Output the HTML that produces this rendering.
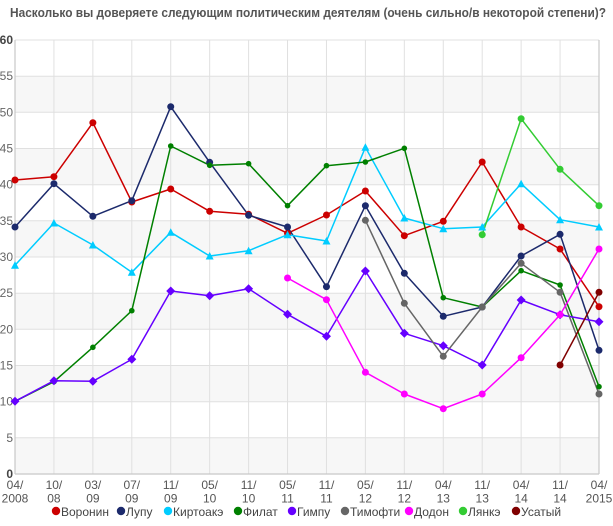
<!DOCTYPE html>
<html><head><meta charset="utf-8"><style>
html,body{margin:0;padding:0;background:#fff;}
svg{display:block;font-family:"Liberation Sans","DejaVu Sans",sans-serif;}
</style></head><body>
<svg width="613" height="526" viewBox="0 0 613 526" xmlns="http://www.w3.org/2000/svg">
<rect x="0" y="0" width="613" height="526" fill="#fff"/>
<text x="10" y="17" font-size="12.5" font-weight="bold" fill="#555" textLength="596" lengthAdjust="spacingAndGlyphs">Насколько вы доверяете следующим политическим деятелям (очень сильно/в некоторой степени)?</text>
<!-- bands -->
<g fill="#f7f7f7">
<rect x="15" y="76.2" width="584" height="36.2"/>
<rect x="15" y="148.5" width="584" height="36.2"/>
<rect x="15" y="220.8" width="584" height="36.2"/>
<rect x="15" y="293" width="584" height="36.2"/>
<rect x="15" y="365.5" width="584" height="36.2"/>
<rect x="15" y="437.8" width="584" height="36.2"/>
</g>
<!-- grid -->
<g stroke="#e0e0e0" stroke-width="1">
<line x1="15" x2="599" y1="40" y2="40"/>
<line x1="15" x2="599" y1="76.2" y2="76.2"/>
<line x1="15" x2="599" y1="112.3" y2="112.3"/>
<line x1="15" x2="599" y1="148.5" y2="148.5"/>
<line x1="15" x2="599" y1="184.7" y2="184.7"/>
<line x1="15" x2="599" y1="220.8" y2="220.8"/>
<line x1="15" x2="599" y1="257" y2="257"/>
<line x1="15" x2="599" y1="293.2" y2="293.2"/>
<line x1="15" x2="599" y1="329.3" y2="329.3"/>
<line x1="15" x2="599" y1="365.5" y2="365.5"/>
<line x1="15" x2="599" y1="401.7" y2="401.7"/>
<line x1="15" x2="599" y1="437.8" y2="437.8"/>
<line x1="53.93" x2="53.93" y1="40" y2="474"/>
<line x1="92.87" x2="92.87" y1="40" y2="474"/>
<line x1="131.8" x2="131.8" y1="40" y2="474"/>
<line x1="170.73" x2="170.73" y1="40" y2="474"/>
<line x1="209.67" x2="209.67" y1="40" y2="474"/>
<line x1="248.6" x2="248.6" y1="40" y2="474"/>
<line x1="287.53" x2="287.53" y1="40" y2="474"/>
<line x1="326.47" x2="326.47" y1="40" y2="474"/>
<line x1="365.4" x2="365.4" y1="40" y2="474"/>
<line x1="404.33" x2="404.33" y1="40" y2="474"/>
<line x1="443.27" x2="443.27" y1="40" y2="474"/>
<line x1="482.2" x2="482.2" y1="40" y2="474"/>
<line x1="521.13" x2="521.13" y1="40" y2="474"/>
<line x1="560.07" x2="560.07" y1="40" y2="474"/>
</g>
<g stroke="#c8c8c8" stroke-width="1.2">
<line x1="15" x2="15" y1="40" y2="474"/>
<line x1="599" x2="599" y1="40" y2="474"/>
<line x1="15" x2="599" y1="474" y2="474"/>
</g>
<!-- y labels -->
<g font-size="12" fill="#666" text-anchor="end">
<text x="13" y="44" font-weight="bold" fill="#444">60</text>
<text x="13" y="80.2">55</text>
<text x="13" y="116.3">50</text>
<text x="13" y="152.5">45</text>
<text x="13" y="188.7">40</text>
<text x="13" y="224.8">35</text>
<text x="13" y="261">30</text>
<text x="13" y="297.2">25</text>
<text x="13" y="333.3">20</text>
<text x="13" y="369.5">15</text>
<text x="13" y="405.7">10</text>
<text x="13" y="441.8">5</text>
<text x="13" y="478" font-weight="bold" fill="#444">0</text>
</g>
<!-- x labels -->
<g font-size="12" fill="#555" text-anchor="middle">
<text x="15" y="489">04/</text><text x="15" y="502.5">2008</text>
<text x="53.93" y="489">10/</text><text x="53.93" y="502.5">08</text>
<text x="92.87" y="489">03/</text><text x="92.87" y="502.5">09</text>
<text x="131.8" y="489">07/</text><text x="131.8" y="502.5">09</text>
<text x="170.73" y="489">11/</text><text x="170.73" y="502.5">09</text>
<text x="209.67" y="489">05/</text><text x="209.67" y="502.5">10</text>
<text x="248.6" y="489">11/</text><text x="248.6" y="502.5">10</text>
<text x="287.53" y="489">05/</text><text x="287.53" y="502.5">11</text>
<text x="326.47" y="489">11/</text><text x="326.47" y="502.5">11</text>
<text x="365.4" y="489">05/</text><text x="365.4" y="502.5">12</text>
<text x="404.33" y="489">11/</text><text x="404.33" y="502.5">12</text>
<text x="443.27" y="489">04/</text><text x="443.27" y="502.5">13</text>
<text x="482.2" y="489">11/</text><text x="482.2" y="502.5">13</text>
<text x="521.13" y="489">04/</text><text x="521.13" y="502.5">14</text>
<text x="560.07" y="489">11/</text><text x="560.07" y="502.5">14</text>
<text x="599" y="489">04/</text><text x="599" y="502.5">2015</text>
</g>
<!-- series lines -->
<g fill="none" stroke-width="1.5" stroke-linejoin="round">
<polyline stroke="#cc0000" points="15,180 53.93,176.7 92.87,122.7 131.8,202 170.73,189 209.67,211.3 248.6,214.3 287.53,233.3 326.47,215 365.4,191 404.33,235.7 443.27,221.3 482.2,162 521.13,227 560.07,249 599,306.7"/>
<polyline stroke="#1c2a6c" points="15,227 53.93,183.7 92.87,216.3 131.8,200.7 170.73,106.7 209.67,162.3 248.6,215.3 287.53,227 326.47,286.7 365.4,205.7 404.33,273.3 443.27,316.3 482.2,307 521.13,256 560.07,234.3 599,350.3"/>
<polyline stroke="#00ccff" points="15,265.3 53.93,223 92.87,245 131.8,272.3 170.73,232.3 209.67,256 248.6,250.7 287.53,234.7 326.47,241 365.4,147.3 404.33,218 443.27,228.7 482.2,227 521.13,183.7 560.07,219.7 599,227"/>
<polyline stroke="#008000" points="15,401.3 53.93,381.7 92.87,347.3 131.8,310.7 170.73,146 209.67,165.3 248.6,163.7 287.53,205.7 326.47,165.7 365.4,162 404.33,148.3 443.27,297.7 482.2,307 521.13,270.7 560.07,285 599,386.7"/>
<polyline stroke="#6600ff" points="15,401.3 53.93,380.7 92.87,381.3 131.8,359.3 170.73,291 209.67,295.7 248.6,288.7 287.53,314.3 326.47,336.3 365.4,271 404.33,333.3 443.27,345.7 482.2,365 521.13,300 560.07,314.7 599,321.7"/>
<polyline stroke="#666666" points="365.4,220.3 404.33,303.3 443.27,356.3 482.2,307 521.13,263.3 560.07,292.3 599,394"/>
<polyline stroke="#ff00ff" points="287.53,278 326.47,299.7 365.4,372.3 404.33,394 443.27,408.7 482.2,394 521.13,357.7 560.07,314.7 599,249"/>
<polyline stroke="#33cc33" points="482.2,234.7 521.13,118.7 560.07,169.3 599,205.7"/>
<polyline stroke="#800000" points="560.07,365 599,292.3"/>
</g>
<!-- markers -->
<g fill="#cc0000">
<circle cx="15" cy="180" r="3.5"/><circle cx="53.93" cy="176.7" r="3.5"/><circle cx="92.87" cy="122.7" r="3.5"/><circle cx="131.8" cy="202" r="3.5"/><circle cx="170.73" cy="189" r="3.5"/><circle cx="209.67" cy="211.3" r="3.5"/><circle cx="248.6" cy="214.3" r="3.5"/><circle cx="287.53" cy="233.3" r="3.5"/><circle cx="326.47" cy="215" r="3.5"/><circle cx="365.4" cy="191" r="3.5"/><circle cx="404.33" cy="235.7" r="3.5"/><circle cx="443.27" cy="221.3" r="3.5"/><circle cx="482.2" cy="162" r="3.5"/><circle cx="521.13" cy="227" r="3.5"/><circle cx="560.07" cy="249" r="3.5"/><circle cx="599" cy="306.7" r="3.5"/>
</g>
<g fill="#1c2a6c">
<circle cx="15" cy="227" r="3.5"/><circle cx="53.93" cy="183.7" r="3.5"/><circle cx="92.87" cy="216.3" r="3.5"/><circle cx="131.8" cy="200.7" r="3.5"/><circle cx="170.73" cy="106.7" r="3.5"/><circle cx="209.67" cy="162.3" r="3.5"/><circle cx="248.6" cy="215.3" r="3.5"/><circle cx="287.53" cy="227" r="3.5"/><circle cx="326.47" cy="286.7" r="3.5"/><circle cx="365.4" cy="205.7" r="3.5"/><circle cx="404.33" cy="273.3" r="3.5"/><circle cx="443.27" cy="316.3" r="3.5"/><circle cx="482.2" cy="307" r="3.5"/><circle cx="521.13" cy="256" r="3.5"/><circle cx="560.07" cy="234.3" r="3.5"/><circle cx="599" cy="350.3" r="3.5"/>
</g>
<g fill="#00ccff">
<path d="M11,268.8h8l-4,-7.5z M49.93,226.5h8l-4,-7.5z M88.87,248.5h8l-4,-7.5z M127.8,275.8h8l-4,-7.5z M166.73,235.8h8l-4,-7.5z M205.67,259.5h8l-4,-7.5z M244.6,254.2h8l-4,-7.5z M283.53,238.2h8l-4,-7.5z M322.47,244.5h8l-4,-7.5z M361.4,150.8h8l-4,-7.5z M400.33,221.5h8l-4,-7.5z M439.27,232.2h8l-4,-7.5z M478.2,230.5h8l-4,-7.5z M517.13,187.2h8l-4,-7.5z M556.07,223.2h8l-4,-7.5z M595,230.5h8l-4,-7.5z"/>
</g>
<g fill="#008000">
<circle cx="15" cy="401.3" r="2.8"/><circle cx="53.93" cy="381.7" r="2.8"/><circle cx="92.87" cy="347.3" r="2.8"/><circle cx="131.8" cy="310.7" r="2.8"/><circle cx="170.73" cy="146" r="2.8"/><circle cx="209.67" cy="165.3" r="2.8"/><circle cx="248.6" cy="163.7" r="2.8"/><circle cx="287.53" cy="205.7" r="2.8"/><circle cx="326.47" cy="165.7" r="2.8"/><circle cx="365.4" cy="162" r="2.8"/><circle cx="404.33" cy="148.3" r="2.8"/><circle cx="443.27" cy="297.7" r="2.8"/><circle cx="482.2" cy="307" r="2.8"/><circle cx="521.13" cy="270.7" r="2.8"/><circle cx="560.07" cy="285" r="2.8"/><circle cx="599" cy="386.7" r="2.8"/>
</g>
<g fill="#6600ff">
<path d="M15,396.8l4.5,4.5l-4.5,4.5l-4.5,-4.5z M53.93,376.2l4.5,4.5l-4.5,4.5l-4.5,-4.5z M92.87,376.8l4.5,4.5l-4.5,4.5l-4.5,-4.5z M131.8,354.8l4.5,4.5l-4.5,4.5l-4.5,-4.5z M170.73,286.5l4.5,4.5l-4.5,4.5l-4.5,-4.5z M209.67,291.2l4.5,4.5l-4.5,4.5l-4.5,-4.5z M248.6,284.2l4.5,4.5l-4.5,4.5l-4.5,-4.5z M287.53,309.8l4.5,4.5l-4.5,4.5l-4.5,-4.5z M326.47,331.8l4.5,4.5l-4.5,4.5l-4.5,-4.5z M365.4,266.5l4.5,4.5l-4.5,4.5l-4.5,-4.5z M404.33,328.8l4.5,4.5l-4.5,4.5l-4.5,-4.5z M443.27,341.2l4.5,4.5l-4.5,4.5l-4.5,-4.5z M482.2,360.5l4.5,4.5l-4.5,4.5l-4.5,-4.5z M521.13,295.5l4.5,4.5l-4.5,4.5l-4.5,-4.5z M560.07,310.2l4.5,4.5l-4.5,4.5l-4.5,-4.5z M599,317.2l4.5,4.5l-4.5,4.5l-4.5,-4.5z"/>
</g>
<g fill="#666666">
<circle cx="365.4" cy="220.3" r="3.5"/><circle cx="404.33" cy="303.3" r="3.5"/><circle cx="443.27" cy="356.3" r="3.5"/><circle cx="482.2" cy="307" r="3.5"/><circle cx="521.13" cy="263.3" r="3.5"/><circle cx="560.07" cy="292.3" r="3.5"/><circle cx="599" cy="394" r="3.5"/>
</g>
<g fill="#ff00ff">
<circle cx="287.53" cy="278" r="3.5"/><circle cx="326.47" cy="299.7" r="3.5"/><circle cx="365.4" cy="372.3" r="3.5"/><circle cx="404.33" cy="394" r="3.5"/><circle cx="443.27" cy="408.7" r="3.5"/><circle cx="482.2" cy="394" r="3.5"/><circle cx="521.13" cy="357.7" r="3.5"/><circle cx="560.07" cy="314.7" r="3.5"/><circle cx="599" cy="249" r="3.5"/>
</g>
<g fill="#33cc33">
<circle cx="482.2" cy="234.7" r="3.5"/><circle cx="521.13" cy="118.7" r="3.5"/><circle cx="560.07" cy="169.3" r="3.5"/><circle cx="599" cy="205.7" r="3.5"/>
</g>
<g fill="#800000">
<circle cx="560.07" cy="365" r="3.5"/><circle cx="599" cy="292.3" r="3.5"/>
</g>
<!-- legend -->
<g font-size="12" fill="#444">
<circle cx="56" cy="511" r="4.2" fill="#cc0000"/><text x="61" y="516">Воронин</text>
<circle cx="121" cy="511" r="4.2" fill="#1c2a6c"/><text x="126" y="516">Лупу</text>
<circle cx="168" cy="511" r="4.2" fill="#00ccff"/><text x="173" y="516">Киртоакэ</text>
<circle cx="238" cy="511" r="4.2" fill="#008000"/><text x="243" y="516">Филат</text>
<circle cx="292" cy="511" r="4.2" fill="#6600ff"/><text x="297" y="516">Гимпу</text>
<circle cx="345" cy="511" r="4.2" fill="#666666"/><text x="350" y="516">Тимофти</text>
<circle cx="409" cy="511" r="4.2" fill="#ff00ff"/><text x="414" y="516">Додон</text>
<circle cx="463" cy="511" r="4.2" fill="#33cc33"/><text x="468" y="516">Лянкэ</text>
<circle cx="516" cy="511" r="4.2" fill="#800000"/><text x="521" y="516">Усатый</text>
</g>
</svg>
</body></html>
